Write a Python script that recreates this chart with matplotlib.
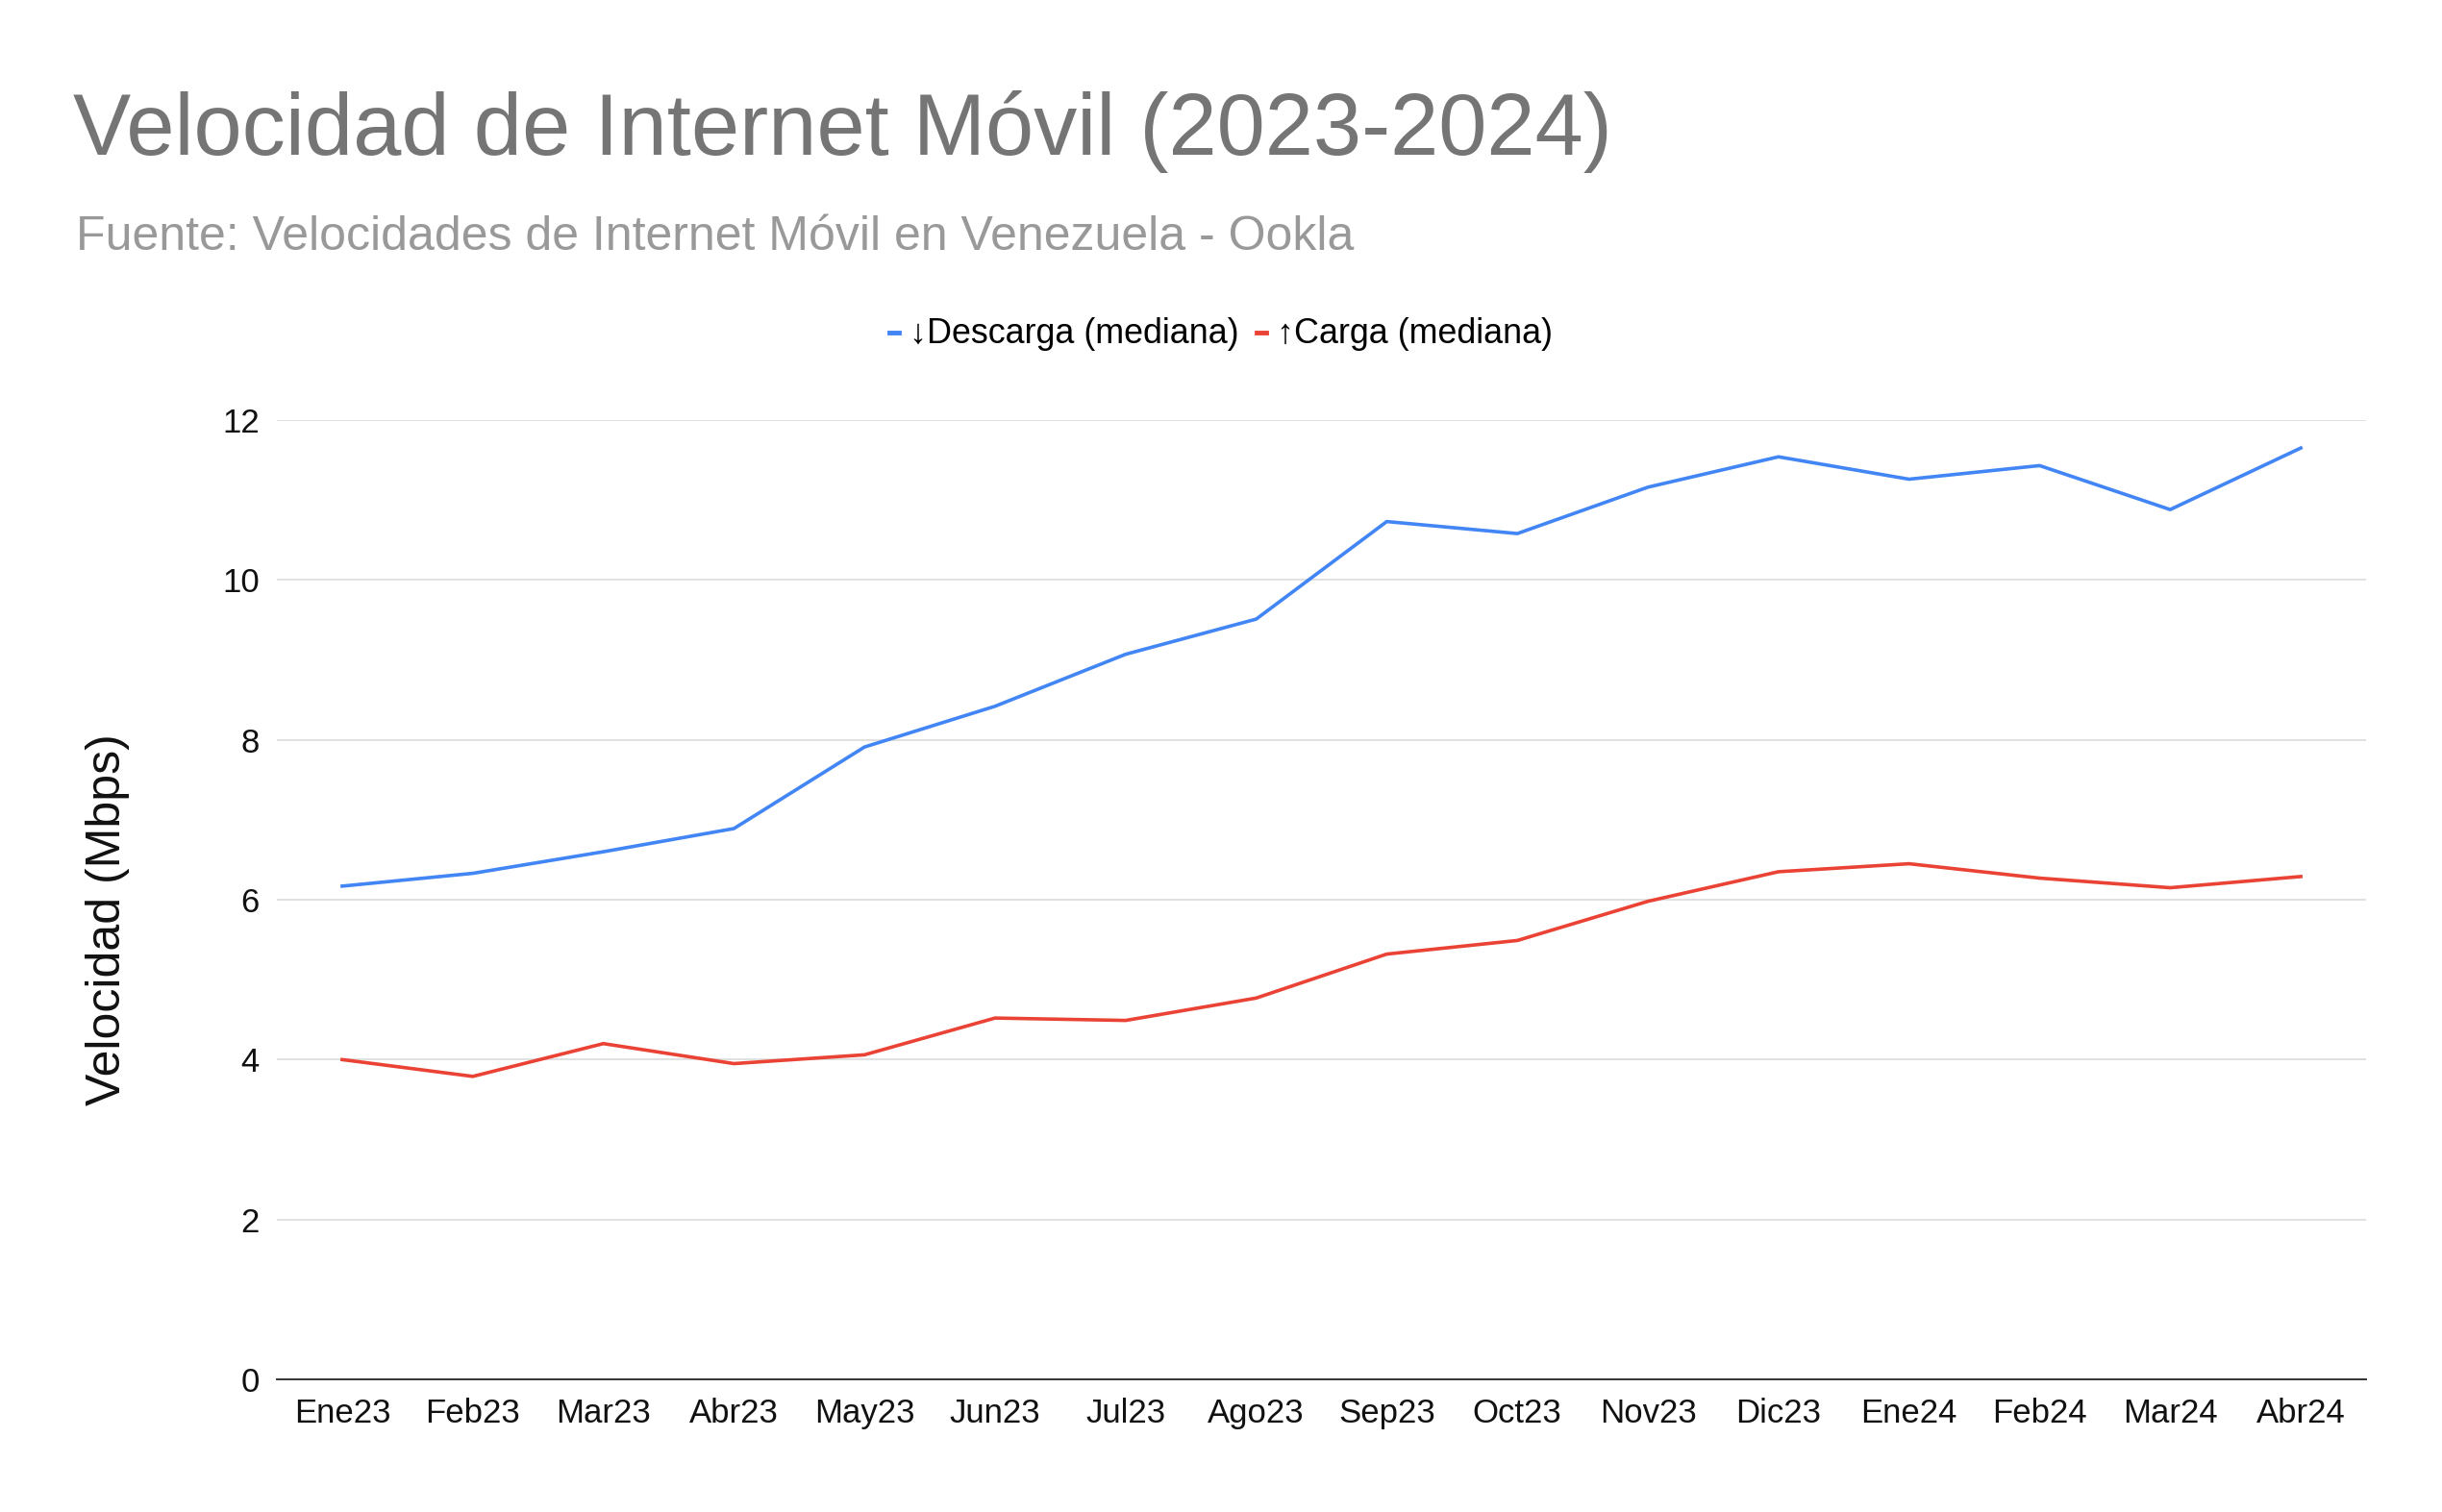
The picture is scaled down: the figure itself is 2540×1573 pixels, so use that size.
import matplotlib
matplotlib.use("Agg")
from matplotlib import pyplot as plt

# datos (Mbps, mediana)
meses = ['Ene23', 'Feb23', 'Mar23', 'Abr23', 'May23', 'Jun23', 'Jul23', 'Ago23',
         'Sep23', 'Oct23', 'Nov23', 'Dic23', 'Ene24', 'Feb24', 'Mar24', 'Abr24']
descarga = [6.17, 6.33, 6.60, 6.89, 7.91, 8.42, 9.07, 9.51,
            10.73, 10.58, 11.16, 11.54, 11.26, 11.43, 10.88, 11.65]
carga = [4.00, 3.79, 4.20, 3.95, 4.06, 4.52, 4.49, 4.77,
         5.32, 5.49, 5.98, 6.35, 6.45, 6.27, 6.15, 6.29]
y_ticks = [0, 2, 4, 6, 8, 10, 12]

plt.rcParams['font.family'] = ['Liberation Sans', 'DejaVu Sans']

fig = plt.figure(figsize=(25.4, 15.73), dpi=100)
ax = fig.add_axes([0.1134, 0.0877, 0.8555, 0.6345])

x = range(len(meses))
ax.plot(x, descarga, color='#4285F4', lw=2.6, label='↓Descarga (mediana)')
ax.plot(x, carga, color='#EA4335', lw=2.6, label='↑Carga (mediana)')

ax.set_xlim(-0.5, len(meses) - 0.5)
ax.set_ylim(0, 12)
ax.set_xticks(list(x))
ax.set_xticklabels(meses)
ax.set_yticks(y_ticks)
ax.tick_params(axis='both', length=0, labelsize=25, colors='#111111')
ax.tick_params(axis='y', pad=13)
ax.tick_params(axis='x', pad=14)
ax.grid(axis='y', color='#D9D9D9', lw=1.1)
ax.set_axisbelow(True)
for s in ['top', 'right', 'left']:
    ax.spines[s].set_visible(False)
ax.spines['bottom'].set_color('#333333')
ax.spines['bottom'].set_linewidth(1.4)
ax.spines['bottom'].set_zorder(3)

fig.text(0.0299, 0.8976, 'Velocidad de Internet Móvil (2023-2024)', fontsize=65,
         color='#757575', va='baseline', ha='left')
fig.text(0.0311, 0.8347, 'Fuente: Velocidades de Internet Móvil en Venezuela - Ookla',
         fontsize=36, color='#999999', va='baseline', ha='left')
fig.text(0.0441, 0.392, 'Velocidad (Mbps)', fontsize=36, rotation=90,
         ha='center', va='center', color='#111111')

fig.legend(loc='center', bbox_to_anchor=(0.5, 0.779), ncol=2, frameon=False,
           fontsize=25.8, handlelength=0.28, handletextpad=0.3, columnspacing=0.5,
           borderpad=0, handleheight=0.5)
leg = fig.legends[0]
for h in leg.legend_handles:
    h.set_linewidth(3.5)

fig.savefig('out.png', dpi=100, facecolor='white')
